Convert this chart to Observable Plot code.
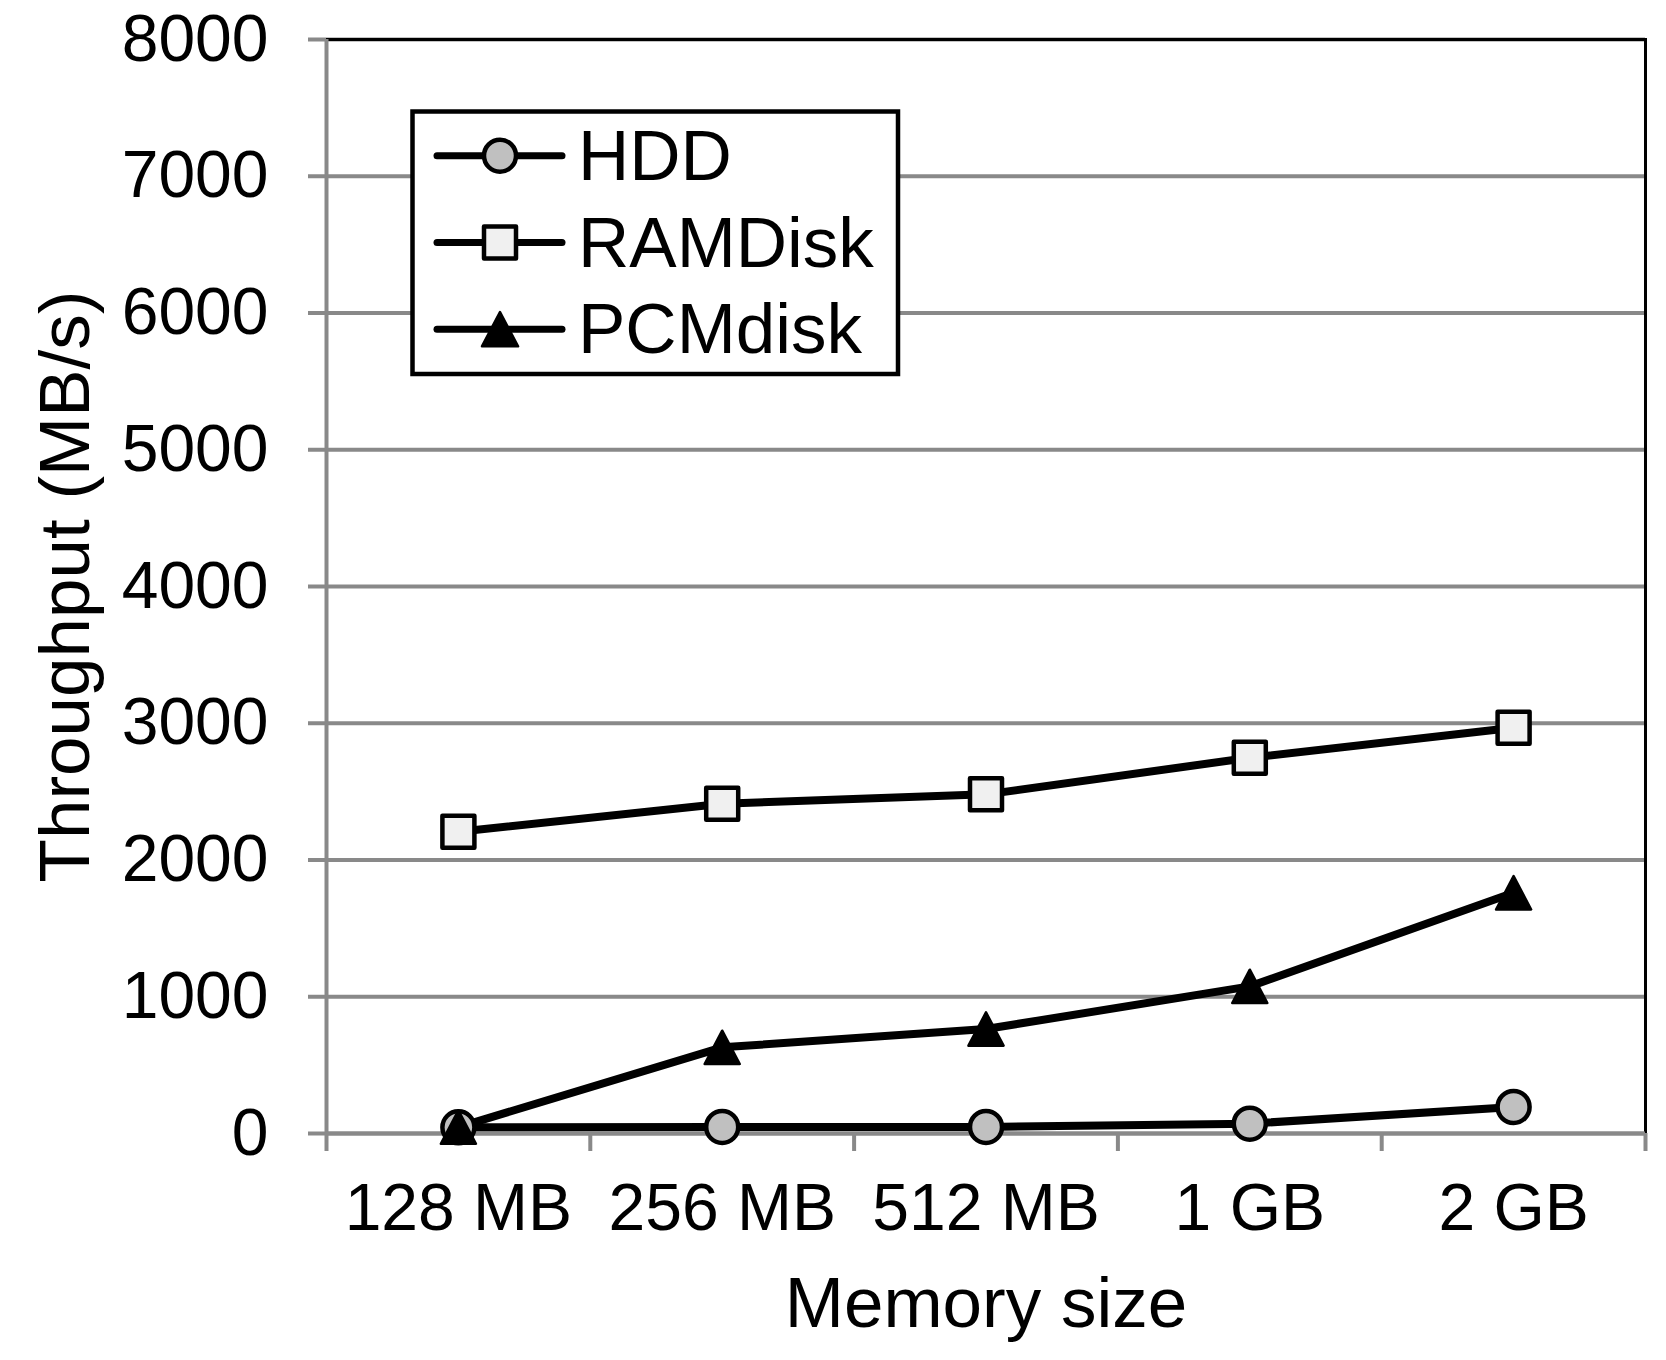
<!DOCTYPE html>
<html>
<head>
<meta charset="utf-8">
<script src="https://cdn.jsdelivr.net/npm/d3@7"></script>
<script src="https://cdn.jsdelivr.net/npm/@observablehq/plot@0.6"></script>
<style>
  html, body { margin: 0; padding: 0; background: #fff; overflow: hidden; }
  #chart { width: 1666px; height: 1360px; }
  #chart svg { display: block; }
</style>
</head>
<body>
<div id="chart"></div>
<script>
// ---- data ----
const categories = ["128 MB", "256 MB", "512 MB", "1 GB", "2 GB"];
const seriesNames = ["HDD", "RAMDisk", "PCMdisk"];
const hddValues = [45, 48, 48, 72, 194];
const ramdiskValues = [2207, 2411, 2480, 2748, 2967];
const pcmdiskValues = [47, 630, 764, 1076, 1760];
const yTicks = [0, 1000, 2000, 3000, 4000, 5000, 6000, 7000, 8000];
const xTitle = "Memory size";
const yTitle = "Throughput (MB/s)";

// ---- build table ----
const allSeries = [hddValues, ramdiskValues, pcmdiskValues];
const rows = [];
allSeries.forEach((vals, s) => vals.forEach((v, i) => rows.push({series: seriesNames[s], cat: categories[i], pos: i + 0.5, value: v})));
const boundaries = d3.range(categories.length + 1);
const centers = categories.map((c, i) => i + 0.5);

// ---- symbols ----
const triangleSym = {draw(ctx, size) { const r = Math.sqrt(size / Math.PI); const h = r * 1.85, w = r * 1.95; ctx.moveTo(0, -h / 2); ctx.lineTo(w / 2, h / 2); ctx.lineTo(-w / 2, h / 2); ctx.closePath(); }};
const squareSym = {draw(ctx, size) { const r = Math.sqrt(size / Math.PI); ctx.rect(-r, -r, 2 * r, 2 * r); }};

const styles = {
  HDD: {symbol: "circle", fill: "#c0c0c0", r: 16, sw: 4.5},
  RAMDisk: {symbol: squareSym, fill: "#f0f0f0", r: 16, sw: 4.5},
  PCMdisk: {symbol: triangleSym, fill: "black", r: 18, sw: 2.5}
};

const FONT = "'Liberation Sans', Arial, Helvetica, sans-serif";
const GRID = "#898989";

const plot = Plot.plot({
  width: 1666,
  height: 1360,
  marginLeft: 326,
  marginRight: 21,
  marginTop: 39,
  marginBottom: 227,
  style: {fontFamily: FONT, background: "white", color: "black"},
  x: {type: "linear", domain: [0, categories.length]},
  y: {domain: [0, 8000]},
  marks: [
    Plot.gridY(yTicks, {stroke: GRID, strokeOpacity: 1, strokeWidth: 4}),
    Plot.frame({stroke: "black", strokeWidth: 3}),
    Plot.axisY({ticks: yTicks, tickSize: 18, tickPadding: 40, fontSize: 66, stroke: GRID, strokeWidth: 4, strokeOpacity: 1, fill: "black", tickFormat: d => String(d), label: null}),
    Plot.ruleX([0], {stroke: GRID, strokeWidth: 4}),
    Plot.ruleY([0], {stroke: GRID, strokeWidth: 4}),
    Plot.axisX({ticks: boundaries, tickSize: 18, tickFormat: () => "", stroke: GRID, strokeWidth: 4, strokeOpacity: 1, label: null}),
    Plot.axisX({ticks: centers, tickSize: 0, tickPadding: 50, fontSize: 66, fill: "black", tickFormat: d => categories[Math.floor(d)], label: null}),
    Plot.line(rows, {x: "pos", y: "value", z: "series", stroke: "black", strokeWidth: 8, strokeLinejoin: "round"}),
    ...seriesNames.map(name => Plot.dot(rows.filter(d => d.series === name), {
      x: "pos", y: "value", r: styles[name].r, symbol: styles[name].symbol,
      fill: styles[name].fill, stroke: "black", strokeWidth: styles[name].sw, strokeLinejoin: "round"
    })),
    Plot.text([yTitle], {text: d => d, frameAnchor: "left", textAnchor: "middle", dx: -260, rotate: -90, fontSize: 71, fill: "black"}),
    Plot.text([xTitle], {text: d => d, frameAnchor: "bottom", textAnchor: "middle", dy: 193, fontSize: 71, fill: "black"})
  ]
});

document.getElementById("chart").appendChild(plot);

// ---- legend (inside plot area, top-left) ----
const svg = d3.select(plot);
const lg = svg.append("g").attr("font-family", FONT).attr("text-anchor", "start");
lg.append("rect").attr("x", 412.5).attr("y", 111.5).attr("width", 485.5).attr("height", 262.5)
  .attr("fill", "white").attr("stroke", "black").attr("stroke-width", 4.5);
const rowY = [155.7, 242.5, 329.2];
const legendSyms = {
  HDD: d3.symbol(d3.symbolCircle, Math.PI * 16 * 16),
  RAMDisk: d3.symbol(squareSym, Math.PI * 16 * 16),
  PCMdisk: d3.symbol(triangleSym, Math.PI * 18.5 * 18.5)
};
seriesNames.forEach((name, i) => {
  const y = rowY[i];
  lg.append("line").attr("x1", 437).attr("x2", 562).attr("y1", y).attr("y2", y)
    .attr("stroke", "black").attr("stroke-width", 7).attr("stroke-linecap", "round");
  lg.append("path").attr("d", legendSyms[name]()).attr("transform", `translate(500,${y})`)
    .attr("fill", styles[name].fill).attr("stroke", "black").attr("stroke-width", styles[name].sw).attr("stroke-linejoin", "round");
  lg.append("text").attr("x", 578).attr("y", y + 24).attr("font-size", 71).attr("fill", "black").attr("text-anchor", "start").text(name);
});
</script>
</body>
</html>
